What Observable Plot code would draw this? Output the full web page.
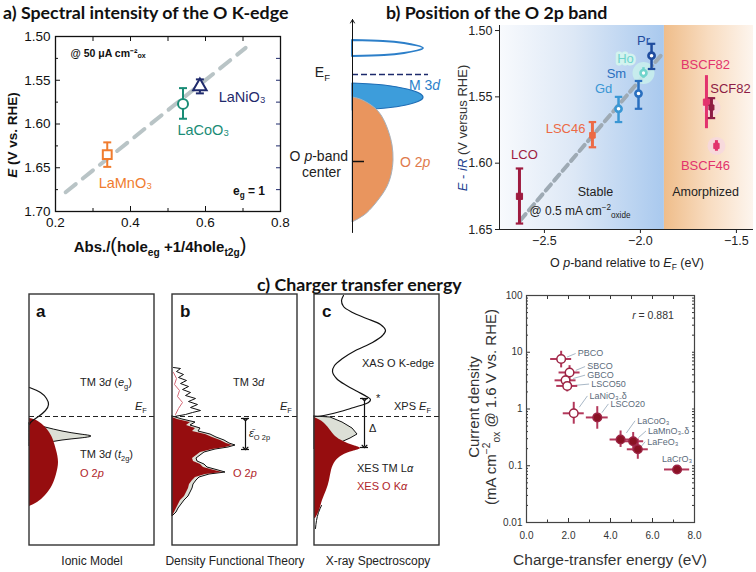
<!DOCTYPE html>
<html>
<head>
<meta charset="utf-8">
<script src="https://cdn.jsdelivr.net/npm/d3@7"></script>
<script src="https://cdn.jsdelivr.net/npm/@observablehq/plot@0.6"></script>
<style>
  html, body { margin: 0; padding: 0; background: #fff; }
  #root { position: relative; width: 756px; height: 572px; overflow: hidden; background: #fff;
          font-family: "Liberation Sans", Arial, sans-serif; color: #222; }
  .abs { position: absolute; white-space: nowrap; line-height: 1.15; }
  .plotbox { position: absolute; }
  .plotbox svg { display: block; max-width: none; overflow: visible; }
  sub, sup { font-size: 68%; line-height: 0; }
</style>
</head>
<body>
<div id="root"></div>
<script>
const FONT = '"Liberation Sans", Arial, sans-serif';

// ================= Panel a) data =================
const aMaterials = ["LaMnO₃", "LaCoO₃", "LaNiO₃"];
const aAbs = [0.338, 0.540, 0.585];
const aPotential = [1.635, 1.577, 1.557];
const aPotentialLo = [1.621, 1.559, 1.549];
const aPotentialHi = [1.649, 1.594, 1.565];
const aColors = ["#f07c2e", "#1a8c76", "#1f2a6c"];
const aSymbols = ["square", "circle", "triangle"];
const aLabelAbs = [0.315, 0.525, 0.635];
const aLabelPotential = [1.668, 1.607, 1.570];
const aTrendAbs = [0.227, 0.707];
const aTrendPotential = [1.678, 1.513];
const aXTicks = [0.2, 0.4, 0.6, 0.8];
const aXMinor = [0.3, 0.5, 0.7];
const aYTicks = [1.50, 1.55, 1.60, 1.65, 1.70];
const aYMinor = [1.525, 1.575, 1.625, 1.675];

// ================= Panel b) data =================
const bNames = ["LCO", "LSC46", "Gd", "Sm", "Ho", "Pr", "BSCF82", "SCF82", "BSCF46"];
const bBand = [-2.630, -2.250, -2.114, -2.010, -1.984, -1.942, -1.656, -1.630, -1.604];
const bPotential = [1.625, 1.579, 1.559, 1.5475, 1.532, 1.519, 1.554, 1.558, 1.587];
const bPotentialLo = [1.604, 1.569, 1.550, 1.538, 1.528, 1.510, 1.534, 1.551, 1.583];
const bPotentialHi = [1.6455, 1.588, 1.569, 1.559, 1.536, 1.529, 1.574, 1.566, 1.591];
const bColors = ["#9e1b3f", "#ec6a45", "#3a97d4", "#2a6fbf", "#70d4cc", "#1f4c9e", "#e2336d", "#8d1c45", "#e2336d"];
const bShapes = ["square", "square", "circle", "circle", "circle", "circle", "square", "square", "square"];
const bSizes = [7.3, 6.0, 5.8, 5.8, 5.2, 5.8, 7.3, 4.8, 5.4];
const bCaps = [true, true, true, true, false, true, false, true, false];
const bLabelBand = [-2.604, -2.390, -2.192, -2.125, -2.078, -1.984, -1.661, -1.531, -1.661];
const bLabelPotential = [1.594, 1.574, 1.544, 1.533, 1.521, 1.508, 1.526, 1.544, 1.602];
const bTrendBand = [-2.625, -1.880];
const bTrendPotential = [1.643, 1.5166];
const bRegionNames = ["Stable", "Amorphized"];
const bRegionFrom = [-2.734, -1.875];
const bRegionTo = [-1.875, -1.411];
const bXTicks = [-2.5, -2.0, -1.5];
const bYTicks = [1.50, 1.55, 1.60, 1.65];

// Panel b) schematic band shapes: [energy position, density extent] in figure px
const bsEmpty3d = [[40,352],[41,383],[43,404],[45.5,417],[48,423],[50.5,417],[53,404],[55,384],[56,352]];
const bsFilled3d = [[83,352],[85,384],[89,407],[93,419],[97,423],[101,419],[105,406],[108,386],[110,352]];
const bsO2p = [[97,352],[99,360],[105,371],[115,381],[130,388],[145,392],[160,393],[175,391],[190,385],[205,374],[215,364],[222,352]];

// ================= Panel c) schematic data (figure px) =================
const cBoxNames = ["a", "b", "c"];
const cBoxLeft = [29, 172, 314];
const cBoxRight = [154, 297, 439];
const cBoxTop = 294, cBoxBottom = 545, cFermi = 416;
const ionicO2p = [[418,29],[420,36],[425,43],[432,49],[440,53],[450,56],[462,58],[474,56],[485,52],[495,45],[502,37],[506,29]];
const ionicT2g = [[423,29],[427,45],[431,62],[434,80],[436,91],[438,80],[440,62],[443,45],[446,29]];
const ionicEg = [[387,29],[392,40],[398,46],[404,48],[410,45],[416,38],[421,31],[424,29]];
const dftUpper = [[367,173],[368,180],[371,176],[374,183],[377,178],[380,186],[383,180],[386,188],[389,182],[392,190],[395,185],[398,195],[401,188],[404,197],[407,190],[410,200],[412,192],[414,185],[416,174]];
const dftUpperPink = [[372,173],[378,176],[384,174],[390,179],[396,177],[402,182],[408,178],[414,175]];
const dftOutline = [[416,172],[419,182],[422,195],[425,190],[428,200],[431,198],[434,210],[437,216],[440,224],[443,229],[445,235],[447,228],[449,215],[452,204],[455,200],[458,196],[461,197],[464,204],[467,207],[470,218],[472,225],[474,209],[477,199],[480,196],[484,193],[488,192],[492,190],[496,188],[500,184],[504,181],[508,178],[512,176],[516,172]];
const dftO2p = [[417,172],[419,177],[422,190],[425,186],[428,195],[431,192],[434,205],[437,212],[440,220],[443,226],[445,232],[447,225],[449,212],[452,200],[455,196],[458,192],[461,193],[464,200],[467,203],[470,214],[472,222],[474,205],[477,195],[480,192],[484,189],[488,188],[492,186],[496,184],[500,180],[504,178],[508,176],[512,174],[516,172]];
const xasCurve = [[295,343],[300,341],[306,343],[312,352],[318,366],[324,380],[330,385],[335,382],[342,372],[350,355],[358,342],[365,334],[371,332],[378,336],[385,346],[391,357],[396,366],[399,370],[402,368],[405,360],[408,350],[411,340],[414,328],[416,317]];
const xesTM = [[416,314],[417,330],[422,342],[428,352],[434,357],[438,350],[442,341],[446,334],[449,330]];
const xesO = [[417,314],[420,320],[424,325],[430,330],[436,335],[441,343],[445,353],[448,360],[451,352],[455,342],[461,335],[470,331],[480,329],[490,326],[500,322],[510,319],[518,315]];
const xesTail = [[505,321],[512,318],[520,316],[528,315]];

// ================= Panel c) scatter data =================
const cNames = ["PBCO", "SBCO", "GBCO", "LSCO50", "LaNiO₃₋δ", "LSCO20", "LaCoO₃", "LaMnO₃₋δ", "LaFeO₃", "LaCrO₃"];
const cEnergy = [1.65, 2.05, 1.86, 1.94, 2.25, 3.37, 4.48, 5.08, 5.30, 7.17];
const cEnergyErr = [0.5, 0.5, 0.5, 0.5, 0.5, 0.52, 0.5, 0.5, 0.5, 0.6];
const cCurrent = [7.6, 4.4, 3.2, 2.55, 0.84, 0.71, 0.29, 0.27, 0.195, 0.086];
const cCurrentLo = [5.3, 3.2, 2.5, 2.0, 0.54, 0.44, 0.21, 0.18, 0.13, 0.073];
const cCurrentHi = [10.4, 5.8, 4.0, 3.05, 1.31, 1.1, 0.41, 0.385, 0.295, 0.10];
const cFilled = [false, false, false, false, false, true, true, true, true, true];
const cLabelEnergy = [2.44, 2.89, 2.89, 3.08, 3.0, 4.0, 5.27, 5.79, 5.75, 6.45];
const cLabelCurrent = [9.5, 5.6, 3.95, 2.75, 1.70, 1.23, 0.62, 0.41, 0.265, 0.129];
const cLeader = [true, true, true, true, true, true, true, true, true, false];
const cXTicks = [0, 2, 4, 6, 8];
const cXMinor = [1, 3, 5, 7];
const cYTicks = [0.01, 0.1, 1, 10, 100];

// ================= helpers =================
const root = document.getElementById("root");
function place(svg, left, top) {
  const d = document.createElement("div");
  d.className = "plotbox";
  d.style.left = left + "px"; d.style.top = top + "px";
  d.appendChild(svg);
  root.appendChild(d);
  return svg;
}
function label(html, x, y, {anchor = "start", rotate = 0, style = ""} = {}) {
  const d = document.createElement("div");
  d.className = "abs";
  d.style.cssText = style;
  d.innerHTML = html;
  d.style.left = x + "px"; d.style.top = y + "px";
  const tx = anchor === "middle" ? "-50%" : anchor === "end" ? "-100%" : "0";
  d.style.transform = `translate(${tx}, -50%)` + (rotate ? ` rotate(${rotate}deg)` : "");
  root.appendChild(d);
}
const capSymbol = {draw(ctx, size) { const w = Math.sqrt(size); ctx.moveTo(-w / 2, 0); ctx.lineTo(w / 2, 0); }};
const toPts = (arr) => arr.map(([e, v]) => ({e, v}));

// ================= Panel a) plot =================
const aData = aMaterials.map((m, i) => ({m, x: aAbs[i], y: aPotential[i], lo: aPotentialLo[i], hi: aPotentialHi[i],
  c: aColors[i], s: aSymbols[i], lx: aLabelAbs[i], ly: aLabelPotential[i]}));
const aTrend = aTrendAbs.map((x, i) => ({x, y: aTrendPotential[i]}));
place(Plot.plot({
  width: 300, height: 232,
  marginLeft: 55, marginRight: 20, marginTop: 36, marginBottom: 21,
  style: {fontFamily: FONT, fontSize: "13.5px", color: "#111", background: "transparent", overflow: "visible"},
  x: {domain: [0.2, 0.8]},
  y: {domain: [1.50, 1.70], reverse: true},
  color: {type: "identity"},
  symbol: {type: "identity"},
  marks: [
    Plot.line(aTrend, {x: "x", y: "y", stroke: "#b9c4c6", strokeWidth: 4, strokeDasharray: "13,9"}),
    Plot.axisX({ticks: aXTicks, tickFormat: d3.format(".1f"), tickSize: -5, tickPadding: 11, label: null}),
    Plot.axisX({ticks: aXMinor, tickSize: -3, tickFormat: () => "", label: null}),
    Plot.axisX({anchor: "top", ticks: aXTicks.concat(aXMinor), tickSize: -4, tickFormat: () => "", label: null}),
    Plot.axisY({ticks: aYTicks, tickFormat: d3.format(".2f"), tickSize: -5, tickPadding: 10, label: null}),
    Plot.axisY({ticks: aYMinor, tickSize: -3, tickFormat: () => "", label: null}),
    Plot.axisY({anchor: "right", ticks: aYTicks.concat(aYMinor), tickSize: -5, tickFormat: () => "", label: null, stroke: "#1f2a6c"}),
    Plot.frame({stroke: "#111", strokeWidth: 1.3}),
    Plot.ruleX(aData, {x: "x", y1: "lo", y2: "hi", stroke: "c", strokeWidth: 2}),
    Plot.dot(aData, {x: "x", y: "lo", symbol: capSymbol, r: 4.5, stroke: "c", strokeWidth: 2, fill: "none"}),
    Plot.dot(aData, {x: "x", y: "hi", symbol: capSymbol, r: 4.5, stroke: "c", strokeWidth: 2, fill: "none"}),
    Plot.dot(aData, {x: "x", y: "y", symbol: "s", r: 5, stroke: "c", strokeWidth: 2, fill: "white"}),
    Plot.text(aData, {x: "lx", y: "ly", text: "m", fill: "c", fontSize: 14.5, textAnchor: "start"}),
    Plot.text(["@ 50 μA cm⁻²ₒₓ"], {x: 0.24, y: 1.519, text: d => d, textAnchor: "start", fontSize: 10.5, fontWeight: "bold", fill: "#111"})
  ]
}), 0, 0);

// ================= Panel b) schematic =================
place(Plot.plot({
  width: 140, height: 240, margin: 0,
  style: {fontFamily: FONT, background: "transparent", overflow: "visible"},
  x: {domain: [300, 440], range: [0, 140], axis: null},
  y: {domain: [0, 240], range: [0, 240], axis: null},
  marks: [
    Plot.areaX(toPts(bsEmpty3d), {y: "e", x1: 352, x2: "v", fill: "white", stroke: "#2c7fc9", strokeWidth: 1.8, curve: "natural"}),
    Plot.areaX(toPts(bsFilled3d), {y: "e", x1: 352, x2: "v", fill: "#3d9ddb", stroke: "#1f6db5", strokeWidth: 1.2, curve: "natural"}),
    Plot.areaX(toPts(bsO2p), {y: "e", x1: 352, x2: "v", fill: "#e9955e", stroke: "#a7b0ba", strokeWidth: 1, curve: "natural"}),
    Plot.ruleY([74], {x1: 352, x2: 428, stroke: "#1c2a6b", strokeWidth: 1.5, strokeDasharray: "6,3"}),
    Plot.ruleY([161], {x1: 352, x2: 364, stroke: "#111", strokeWidth: 1.5}),
    Plot.arrow([0], {x1: 352, x2: 352, y1: 232, y2: 19, stroke: "#111", strokeWidth: 1, headLength: 6})
  ]
}), 300, 0);

// ================= Panel b) plot =================
const bData = bNames.map((n, i) => ({n, x: bBand[i], y: bPotential[i], lo: bPotentialLo[i], hi: bPotentialHi[i],
  c: bColors[i], s: bShapes[i], r: bSizes[i], cap: bCaps[i], lx: bLabelBand[i], ly: bLabelPotential[i],
  open: bShapes[i] === "circle"}));
const bTrend = bTrendBand.map((x, i) => ({x, y: bTrendPotential[i]}));
const bRegions = bRegionNames.map((n, i) => ({n, x1: bRegionFrom[i], x2: bRegionTo[i], fill: i === 0 ? "url(#gradStable)" : "url(#gradAmorph)"}));
const plotB = place(Plot.plot({
  width: 316, height: 250,
  marginLeft: 59, marginRight: 3, marginTop: 25, marginBottom: 21,
  style: {fontFamily: FONT, fontSize: "12px", color: "#222", background: "transparent", overflow: "visible"},
  x: {domain: [-2.734, -1.411]},
  y: {domain: [1.4962, 1.65], reverse: true},
  color: {type: "identity"},
  symbol: {type: "identity"},
  marks: [
    Plot.rect(bRegions, {x1: "x1", x2: "x2", y1: 1.4962, y2: 1.65, fill: "fill"}),
    Plot.axisX({ticks: bXTicks, tickFormat: d3.format(".1f"), tickSize: 4, tickPadding: 3, label: null, fontSize: 12.5}),
    Plot.axisY({ticks: bYTicks, tickFormat: d3.format(".2f"), tickSize: 4, tickPadding: 3, label: null, fontSize: 12.5}),
    Plot.ruleX([-2.734], {stroke: "#222"}),
    Plot.ruleY([1.65], {stroke: "#222"}),
    Plot.line(bTrend, {x: "x", y: "y", stroke: "#9eaab4", strokeWidth: 4, strokeDasharray: "8,5"}),
    Plot.dot(bData.filter(d => d.n === "Ho"), {x: "x", y: "y", r: 11, fill: "#c9f0ec", fillOpacity: 0.85}),
    Plot.dot(bData.filter(d => d.n === "BSCF46" || d.n === "SCF82"), {x: "x", y: "y", r: 9, fill: "#f6d6e2", fillOpacity: 0.7}),
    Plot.ruleX(bData, {x: "x", y1: "lo", y2: "hi", stroke: "c", strokeWidth: d => d.s === "square" ? 3 : 2.5}),
    Plot.dot(bData.filter(d => d.cap), {x: "x", y: "lo", symbol: capSymbol, r: 4.2, stroke: "c", strokeWidth: 2.2, fill: "none"}),
    Plot.dot(bData.filter(d => d.cap), {x: "x", y: "hi", symbol: capSymbol, r: 4.2, stroke: "c", strokeWidth: 2.2, fill: "none"}),
    Plot.dot(bData, {x: "x", y: "y", symbol: "s", r: "r", stroke: "c", strokeWidth: d => d.open ? 2.6 : 1, fill: d => d.open ? "white" : d.c}),
    Plot.text(bData.filter(d => d.n === "Ho"), {x: "lx", y: "ly", text: "n", fill: "c", fontSize: 13, stroke: "#d3f3ef", strokeWidth: 5}),
    Plot.text(bData.filter(d => d.n !== "Ho"), {x: "lx", y: "ly", text: "n", fill: "c", fontSize: 13}),
    Plot.text(bRegions, {x: d => d.n === "Stable" ? -2.234 : -1.661, y: 1.622, text: "n", fill: "#222", fontSize: 12.5})
  ]
}), 440, 0);
{
  const ns = "http://www.w3.org/2000/svg";
  const defs = document.createElementNS(ns, "defs");
  defs.innerHTML = `
    <linearGradient id="gradStable" x1="0" x2="1" y1="0" y2="0">
      <stop offset="0" stop-color="#f8fafd"/><stop offset="0.45" stop-color="#dde8f6"/><stop offset="1" stop-color="#a9c9ee"/>
    </linearGradient>
    <linearGradient id="gradAmorph" x1="0" x2="1" y1="0" y2="0">
      <stop offset="0" stop-color="#efbd8a"/><stop offset="0.5" stop-color="#f8dcc0"/><stop offset="1" stop-color="#fdf5ee"/>
    </linearGradient>`;
  plotB.insertBefore(defs, plotB.firstChild);
}

// ================= Panel c) schematic =================
const cBoxes = cBoxNames.map((n, i) => ({n, x1: cBoxLeft[i], x2: cBoxRight[i]}));
place(Plot.plot({
  width: 445, height: 292, margin: 0,
  style: {fontFamily: FONT, background: "transparent", overflow: "visible"},
  x: {domain: [0, 445], range: [0, 445], axis: null},
  y: {domain: [280, 572], range: [0, 292], axis: null},
  marks: [
    // a) ionic model
    Plot.areaX(toPts(ionicT2g), {y: "e", x1: 29, x2: "v", fill: "#dcdfd6", stroke: "#111", strokeWidth: 1, curve: "natural"}),
    Plot.areaX(toPts(ionicO2p), {y: "e", x1: 29, x2: "v", fill: "#960d0f", curve: "natural"}),
    Plot.line(toPts(ionicEg), {y: "e", x: "v", stroke: "#111", strokeWidth: 1.2, curve: "natural"}),
    // b) DFT
    Plot.areaX(toPts(dftOutline), {y: "e", x1: 172, x2: "v", fill: "#dcdfd6", stroke: "#111", strokeWidth: 1}),
    Plot.areaX(toPts(dftO2p), {y: "e", x1: 172, x2: "v", fill: "#960d0f"}),
    Plot.line(toPts(dftUpper), {y: "e", x: "v", stroke: "#111", strokeWidth: 1}),
    Plot.line(toPts(dftUpperPink), {y: "e", x: "v", stroke: "#d56a78", strokeWidth: 1}),
    Plot.link([0], {x1: 245, x2: 245, y1: 419, y2: 448, stroke: "#111", strokeWidth: 1.2, markerStart: "arrow", markerEnd: "arrow"}),
    Plot.ruleY([418, 449], {x1: 241, x2: 249, stroke: "#111", strokeWidth: 1.2}),
    // c) spectroscopy
    Plot.line(toPts(xasCurve), {y: "e", x: "v", stroke: "#111", strokeWidth: 1.2, curve: "catmull-rom"}),
    Plot.areaX(toPts(xesTM), {y: "e", x1: 314, x2: "v", fill: "#dcdfd6", stroke: "#111", strokeWidth: 1, curve: "linear"}),
    Plot.areaX(toPts(xesO), {y: "e", x1: 314, x2: "v", fill: "#960d0f", curve: "natural"}),
    Plot.line(toPts(xesTail), {y: "e", x: "v", stroke: "#111", strokeWidth: 1, curve: "natural"}),
    Plot.link([0], {x1: 364, x2: 364, y1: 399, y2: 446, stroke: "#111", strokeWidth: 1.2, markerStart: "arrow", markerEnd: "arrow"}),
    Plot.ruleY([398, 447], {x1: 360, x2: 368, stroke: "#111", strokeWidth: 1.2}),
    // frames and Fermi level
    Plot.ruleY(cBoxes, {y: cFermi, x1: "x1", x2: "x2", stroke: "#222", strokeWidth: 1.2, strokeDasharray: "5,3"}),
    Plot.rect(cBoxes, {x1: "x1", x2: "x2", y1: cBoxTop, y2: cBoxBottom, fill: "none", stroke: "#333", strokeWidth: 1.4})
  ]
}), 0, 280);

// ================= Panel c) scatter =================
const cData = cNames.map((n, i) => ({n, x: cEnergy[i], xe: cEnergyErr[i], y: cCurrent[i], lo: cCurrentLo[i], hi: cCurrentHi[i],
  filled: cFilled[i], lx: cLabelEnergy[i], ly: cLabelCurrent[i], leader: cLeader[i]}));
const cMinorY = [];
for (const k of [0.01, 0.1, 1, 10]) for (let m = 2; m <= 9; m++) cMinorY.push(+(k * m).toPrecision(3));
place(Plot.plot({
  width: 316, height: 260,
  marginLeft: 86, marginRight: 62, marginTop: 15, marginBottom: 18,
  style: {fontFamily: FONT, fontSize: "10px", color: "#333", background: "transparent", overflow: "visible"},
  x: {domain: [0, 8]},
  y: {type: "log", domain: [0.01, 100]},
  marks: [
    Plot.axisX({ticks: cXTicks, tickFormat: d3.format(".1f"), tickSize: -4, tickPadding: 13, label: null}),
    Plot.axisX({ticks: cXMinor, tickSize: -2.5, tickFormat: () => "", label: null}),
    Plot.axisX({anchor: "top", ticks: cXTicks.concat(cXMinor), tickSize: -3, tickFormat: () => "", label: null}),
    Plot.axisY({ticks: cYTicks, tickFormat: d => String(d), tickSize: -4, tickPadding: 8, label: null}),
    Plot.axisY({ticks: cMinorY, tickSize: -2, tickFormat: () => "", label: null}),
    Plot.axisY({anchor: "right", ticks: cYTicks.concat(cMinorY), tickSize: -3, tickFormat: () => "", label: null}),
    Plot.frame({stroke: "#444", strokeWidth: 1.2}),
    Plot.link(cData.filter(d => d.leader), {
      x1: d => d.x + 0.35 * (d.lx - d.x), y1: d => d.y * Math.pow(d.ly / d.y, 0.35),
      x2: d => d.lx - 0.1, y2: "ly", stroke: "#a9b8c7", strokeWidth: 1}),
    Plot.ruleY(cData, {y: "y", x1: d => d.x - d.xe, x2: d => d.x + d.xe, stroke: "#b3385b", strokeWidth: 2}),
    Plot.ruleX(cData, {x: "x", y1: "lo", y2: "hi", stroke: "#b3385b", strokeWidth: 2}),
    Plot.dot(cData, {x: "x", y: "y", r: 4.3, stroke: "#9c2444", strokeWidth: 1.5, fill: d => d.filled ? "#8a1224" : "white"}),
    Plot.text(cData, {x: "lx", y: "ly", text: "n", textAnchor: "start", fill: "#5b6b7b", fontSize: 9})
  ]
}), 440, 280);

// ================= Text: titles and axis labels =================
const TITLE = "font-family:Lato,'Open Sans',sans-serif;font-weight:700;font-size:17.8px;color:#111";
label("a) Spectral intensity of the O K-edge", 3, 12, {style: TITLE});
label("b) Position of the O 2p band", 386, 12, {style: TITLE});
label("c) Charger transfer energy", 257, 284, {style: TITLE});

// panel a annotations and axis labels
label("e<sub>g</sub> = 1", 233, 192, {style: "font-weight:bold;font-size:12px;color:#111"});
label("<i>E</i> (V vs. RHE)", 13, 135, {anchor: "middle", rotate: -90, style: "font-weight:bold;font-size:13.5px;color:#111"});
label("Abs./<span style='font-size:20px;font-weight:normal'>(</span>hole<sub>eg</sub> +1/4hole<sub>t2g</sub><span style='font-size:20px;font-weight:normal'>)</span>",
  160, 245, {anchor: "middle", style: "font-weight:bold;font-size:15px;color:#111"});

// panel b schematic labels
label("E<sub>F</sub>", 330, 72, {anchor: "end", style: "font-size:14px;color:#222"});
label("M 3<i>d</i>", 409, 85, {style: "font-size:14px;color:#2c7fc9"});
label("O <i>p</i>-band", 348, 156, {anchor: "end", style: "font-size:14px;color:#222"});
label("center", 341, 172, {anchor: "end", style: "font-size:14px;color:#222"});
label("O 2<i>p</i>", 400, 162, {style: "font-size:14px;color:#e07a4c"});

// panel b axis labels
label("<span style='color:#1c3f8f'><i>E</i> - <i>iR</i></span> (V versus RHE)", 463, 128, {anchor: "middle", rotate: -90, style: "font-size:13px;color:#333"});
label("O <i>p</i>-band relative to <i>E</i><sub>F</sub> (eV)", 627, 263, {anchor: "middle", style: "font-size:12.5px;color:#222"});
label("@ 0.5 mA cm<sup>−2</sup><sub>oxide</sub>", 580, 212, {anchor: "middle", style: "font-size:12px;color:#222"});

// panel c schematic labels
label("a", 36, 312, {style: "font-weight:bold;font-size:17px;color:#111"});
label("b", 180, 312, {style: "font-weight:bold;font-size:17px;color:#111"});
label("c", 322, 312, {style: "font-weight:bold;font-size:17px;color:#111"});
label("TM 3<i>d</i> (<i>e</i><sub>g</sub>)", 80, 382, {style: "font-size:11px;color:#222"});
label("<i>E</i><sub>F</sub>", 135, 406, {style: "font-size:11px;color:#222"});
label("TM 3<i>d</i> (<i>t</i><sub>2g</sub>)", 80, 454, {style: "font-size:11px;color:#222"});
label("O 2<i>p</i>", 80, 473, {style: "font-size:11px;color:#b0252a"});
label("TM 3<i>d</i>", 233, 382, {style: "font-size:11px;color:#222"});
label("<i>E</i><sub>F</sub>", 280, 406, {style: "font-size:11px;color:#222"});
label("<i>ε̄</i><sub>O 2p</sub>", 249, 433, {style: "font-size:11px;color:#222"});
label("O 2<i>p</i>", 233, 473, {style: "font-size:11px;color:#b0252a"});
label("XAS O K-edge", 362, 363, {style: "font-size:11px;color:#222"});
label("*", 376, 398, {style: "font-size:11px;color:#222"});
label("XPS <i>E</i><sub>F</sub>", 394, 406, {style: "font-size:11px;color:#222"});
label("Δ", 369, 428, {style: "font-size:11px;color:#222"});
label("XES TM L<i>α</i>", 357, 468, {style: "font-size:11px;color:#222"});
label("XES O K<i>α</i>", 357, 486, {style: "font-size:11px;color:#b0252a"});
label("Ionic Model", 92, 562, {anchor: "middle", style: "font-size:12px;color:#222"});
label("Density Functional Theory", 235, 562, {anchor: "middle", style: "font-size:12px;color:#222"});
label("X-ray Spectroscopy", 378, 562, {anchor: "middle", style: "font-size:12px;color:#222"});

// panel c scatter labels
label("<i>r</i> = 0.881", 653, 315, {anchor: "middle", style: "font-size:10.5px;color:#333"});
label("Current density<br>(mA cm<sup>−2</sup><sub>ox</sub> @ 1.6 V vs. RHE)", 482, 407, {anchor: "middle", rotate: -90, style: "font-size:15px;color:#333;text-align:center;line-height:17px"});
label("Charge-transfer energy (eV)", 610, 560, {anchor: "middle", style: "font-size:15.5px;color:#333"});
</script>
</body>
</html>
